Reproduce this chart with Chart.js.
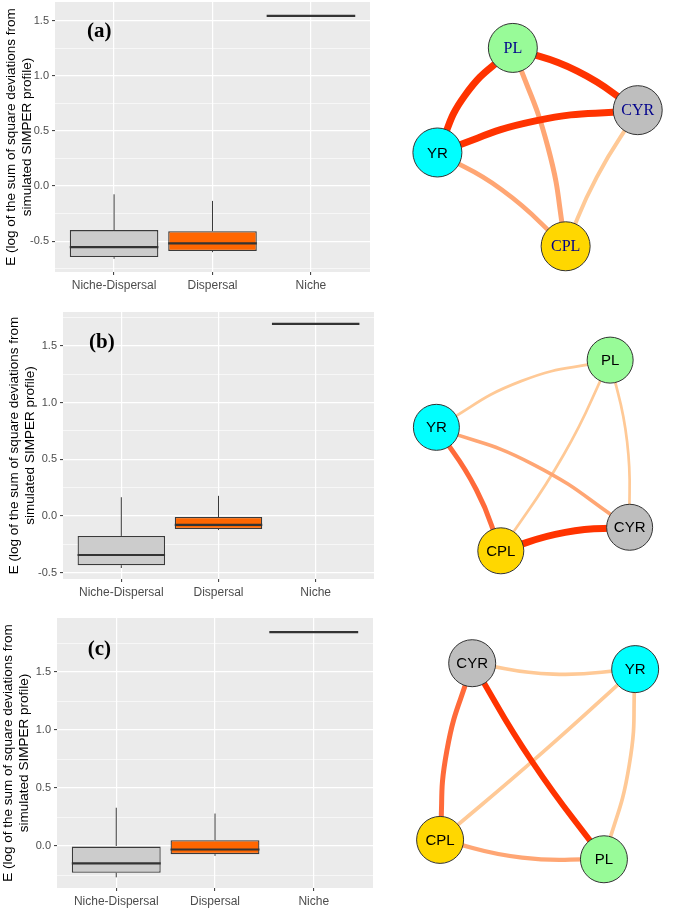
<!DOCTYPE html>
<html>
<head>
<meta charset="utf-8">
<script src="https://cdn.jsdelivr.net/npm/chart.js@4.4.1/dist/chart.umd.min.js"></script>
<style>
  html, body { margin: 0; padding: 0; background: #fff; }
  #fig { position: relative; width: 685px; height: 909px; overflow: hidden; }
  #fig canvas { position: absolute; }
</style>
</head>
<body>
<div id="fig">
  <canvas id="box-a"></canvas>
  <canvas id="box-b"></canvas>
  <canvas id="box-c"></canvas>
  <canvas id="net-a"></canvas>
  <canvas id="net-b"></canvas>
  <canvas id="net-c"></canvas>
</div>
<script>
// ─── Donnees : boxplots ─────────────────────────────────────────────────────

const CATEGORIES = ['Niche-Dispersal', 'Dispersal', 'Niche'];
const Y_TITLE = ['E (log of the sum of square deviations from', 'simulated SIMPER profile)'];
const PANEL_LABELS = ['(a)', '(b)', '(c)'];

// (a)
const A_LOW  = [-0.66, -0.60, 1.545];
const A_Q1   = [-0.645, -0.59, 1.545];
const A_MED  = [-0.555, -0.52, 1.545];
const A_Q3   = [-0.40, -0.41, 1.545];
const A_HIGH = [-0.075, -0.135, 1.545];
const A_YRANGE = [-0.78, 1.67];
const A_YTICKS = [-0.5, 0, 0.5, 1.0, 1.5];
const A_LABEL_AT = [0.85, 1.40];

// (b)
const B_LOW  = [-0.46, -0.125, 1.695];
const B_Q1   = [-0.435, -0.115, 1.695];
const B_MED  = [-0.345, -0.08, 1.695];
const B_Q3   = [-0.177, -0.01, 1.695];
const B_HIGH = [0.165, 0.177, 1.695];
const B_YRANGE = [-0.557, 1.80];
const B_YTICKS = [-0.5, 0, 0.5, 1.0, 1.5];
const B_LABEL_AT = [0.80, 1.53];

// (c)
const C_LOW  = [-0.27, -0.085, 1.845];
const C_Q1   = [-0.23, -0.07, 1.845];
const C_MED  = [-0.15, -0.03, 1.845];
const C_Q3   = [0.0, 0.05, 1.845];
const C_HIGH = [0.33, 0.28, 1.845];
const C_YRANGE = [-0.362, 1.966];
const C_YTICKS = [0, 0.5, 1.0, 1.5];
const C_LABEL_AT = [0.83, 1.69];

// ─── Donnees : reseaux ──────────────────────────────────────────────────────

const NET_A_NODES  = ['PL', 'CYR', 'YR', 'CPL'];
const NET_A_X      = [140, 289, 50, 203];
const NET_A_Y      = [27, 102, 153, 266];
const NET_A_FROM   = ['PL', 'PL', 'YR', 'PL', 'YR', 'CYR'];
const NET_A_TO     = ['YR', 'CYR', 'CYR', 'CPL', 'CPL', 'CPL'];
const NET_A_LEVEL  = [4, 4, 4, 2, 2, 1];
const NET_A_WEIGHT = [7, 7, 7, 5, 4.6, 4];
const NET_A_BEND_X = [83, 217, 167, 182, 127, 240];
const NET_A_BEND_Y = [84, 55, 115, 147, 198, 183];

const NET_B_NODES  = ['PL', 'YR', 'CYR', 'CPL'];
const NET_B_X      = [255, 50, 278, 126];
const NET_B_Y      = [43, 123, 242, 270];
const NET_B_FROM   = ['YR', 'PL', 'PL', 'YR', 'YR', 'CPL'];
const NET_B_TO     = ['PL', 'CPL', 'CYR', 'CYR', 'CPL', 'CYR'];
const NET_B_LEVEL  = [1, 1, 1, 2, 3, 4];
const NET_B_WEIGHT = [2.7, 2.7, 2.7, 3.6, 5, 7];
const NET_B_BEND_X = [150, 200, 275, 164, 97, 202];
const NET_B_BEND_Y = [68, 156, 140, 167, 197, 248];

const NET_C_NODES  = ['CYR', 'YR', 'CPL', 'PL'];
const NET_C_X      = [92, 285, 54, 248];
const NET_C_Y      = [46, 53, 256, 279];
const NET_C_FROM   = ['CYR', 'CYR', 'CYR', 'YR', 'YR', 'CPL'];
const NET_C_TO     = ['YR', 'CPL', 'PL', 'CPL', 'PL', 'PL'];
const NET_C_LEVEL  = [1, 3, 4, 1, 1, 2];
const NET_C_WEIGHT = [3.7, 5, 5.8, 3.7, 3.7, 4.3];
const NET_C_BEND_X = [188, 62, 163, 172, 278, 151];
const NET_C_BEND_Y = [59, 150, 163, 155, 167, 277];

// ─── Styles ─────────────────────────────────────────────────────────────────

const SANS = '"Liberation Sans", Arial, sans-serif';
const SERIF = '"Liberation Serif", "Times New Roman", serif';
const BOX_FILL = ['#cccccc', '#ff6600', '#cccccc'];
const NODE_FILL = { PL: '#98fb98', CYR: '#bebebe', YR: '#00ffff', CPL: '#ffd700' };
const EDGE_COLOR = { 1: '#ffc996', 2: '#ffa674', 3: '#ff6a3a', 4: '#ff3300' };

function place(id, left, top, w, h) {
  const c = document.getElementById(id);
  c.width = w;
  c.height = h;
  c.style.left = left + 'px';
  c.style.top = top + 'px';
  c.style.width = w + 'px';
  c.style.height = h + 'px';
  return c;
}

const panelBg = {
  id: 'panelBg',
  beforeDraw(chart) {
    const { ctx, chartArea: a } = chart;
    ctx.save();
    ctx.fillStyle = '#ebebeb';
    ctx.fillRect(a.left, a.top, a.right - a.left, a.bottom - a.top);
    ctx.restore();
  }
};

const panelLabel = {
  id: 'panelLabel',
  afterDatasetsDraw(chart, args, o) {
    const { ctx, scales } = chart;
    ctx.save();
    ctx.font = 'bold 21px ' + SERIF;
    ctx.fillStyle = '#000';
    ctx.textAlign = 'center';
    ctx.textBaseline = 'middle';
    ctx.fillText(o.text, scales.x.getPixelForValue(o.at[0]), scales.y.getPixelForValue(o.at[1]));
    ctx.restore();
  }
};

// ─── Boxplots ───────────────────────────────────────────────────────────────

function boxChart(id, frame, s) {
  const canvas = place(id, 0, frame.top, frame.w, frame.h);
  const majors = s.yTicks;
  const isMajor = v => majors.some(m => Math.abs(m - v) < 1e-9);
  const minors = [];
  majors.forEach(m => [m - 0.25, m + 0.25].forEach(v => {
    if (v > s.yRange[0] && v < s.yRange[1] && !isMajor(v) && !minors.some(u => Math.abs(u - v) < 1e-9)) minors.push(v);
  }));
  const gridVals = majors.concat(minors).sort((a, b) => a - b);

  // moustaches et medianes : segments separes par des trous (y null)
  const whiskers = [];
  const medians = [];
  CATEGORIES.forEach((c, i) => {
    const x = i + 1;
    whiskers.push({ x, y: s.low[i] }, { x, y: s.q1[i] }, { x, y: null });
    whiskers.push({ x, y: s.q3[i] }, { x, y: s.high[i] }, { x, y: null });
    medians.push({ x: x - 0.45, y: s.med[i] }, { x: x + 0.45, y: s.med[i] }, { x, y: null });
  });

  return new Chart(canvas, {
    type: 'bar',
    data: {
      datasets: [
        {
          type: 'bar',
          data: CATEGORIES.map((c, i) => ({ x: i + 1, y: [s.q1[i], s.q3[i]] })),
          backgroundColor: BOX_FILL, borderColor: '#3a3a3a', borderWidth: 1.3,
          borderSkipped: false, barPercentage: 0.9, categoryPercentage: 1, order: 3,
        },
        { type: 'line', data: whiskers, borderColor: '#3a3a3a', borderWidth: 1, pointRadius: 0, spanGaps: false, order: 2 },
        { type: 'line', data: medians, borderColor: '#333333', borderWidth: 2.2, pointRadius: 0, spanGaps: false, order: 1 },
      ],
    },
    options: {
      responsive: false,
      animation: false,
      events: [],
      layout: { padding: { left: 0, top: frame.areaTop, right: frame.w - frame.areaRight, bottom: 0 } },
      plugins: {
        legend: { display: false },
        tooltip: { enabled: false },
        panelLabel: { text: s.label, at: s.labelAt },
      },
      scales: {
        x: {
          type: 'linear', min: 0.4, max: 3.6, offset: false,
          afterBuildTicks: sc => { sc.ticks = CATEGORIES.map((c, i) => ({ value: i + 1 })); },
          afterFit: sc => { sc.height = frame.h - frame.areaBottom; sc.paddingLeft = 0; sc.paddingRight = 0; },
          ticks: { callback: v => CATEGORIES[Math.round(v) - 1], color: '#4d4d4d', font: { family: SANS, size: 12 }, autoSkip: false, maxRotation: 0, padding: 3 },
          grid: { color: '#ffffff', lineWidth: 1.2, tickColor: '#333333', tickLength: 3, tickWidth: 1, offset: false },
          border: { display: false },
        },
        y: {
          type: 'linear', min: s.yRange[0], max: s.yRange[1], beginAtZero: false,
          afterBuildTicks: sc => { sc.ticks = gridVals.map(v => ({ value: v })); },
          afterFit: sc => { sc.width = frame.areaLeft; sc.paddingTop = 0; sc.paddingBottom = 0; },
          ticks: { callback: v => isMajor(v) ? v.toFixed(1) : '', color: '#4d4d4d', font: { family: SANS, size: 11 }, autoSkip: false, padding: 3 },
          grid: {
            color: '#ffffff',
            lineWidth: ctx => (ctx.tick && !isMajor(ctx.tick.value)) ? 0.6 : 1.2,
            tickColor: ctx => (ctx.tick && !isMajor(ctx.tick.value)) ? 'rgba(0,0,0,0)' : '#333333',
            tickLength: 3, tickWidth: 1,
          },
          border: { display: false },
          title: { display: true, text: Y_TITLE, color: '#000', font: { family: SANS, size: 13.5 }, padding: { top: frame.titlePad, bottom: 0 } },
        },
      },
    },
    plugins: [panelBg, panelLabel],
  });
}

boxChart('box-a',
  { top: 0, w: 372, h: 300, areaLeft: 55, areaTop: 2, areaRight: 370, areaBottom: 272, titlePad: 3 },
  { low: A_LOW, q1: A_Q1, med: A_MED, q3: A_Q3, high: A_HIGH, yRange: A_YRANGE, yTicks: A_YTICKS, label: PANEL_LABELS[0], labelAt: A_LABEL_AT });
boxChart('box-b',
  { top: 300, w: 376, h: 300, areaLeft: 63, areaTop: 12, areaRight: 374, areaBottom: 279, titlePad: 6 },
  { low: B_LOW, q1: B_Q1, med: B_MED, q3: B_Q3, high: B_HIGH, yRange: B_YRANGE, yTicks: B_YTICKS, label: PANEL_LABELS[1], labelAt: B_LABEL_AT });
boxChart('box-c',
  { top: 600, w: 375, h: 309, areaLeft: 57, areaTop: 18, areaRight: 373, areaBottom: 288, titlePad: 0 },
  { low: C_LOW, q1: C_Q1, med: C_MED, q3: C_Q3, high: C_HIGH, yRange: C_YRANGE, yTicks: C_YTICKS, label: PANEL_LABELS[2], labelAt: C_LABEL_AT });

// ─── Reseaux ────────────────────────────────────────────────────────────────

const nodeLabels = {
  id: 'nodeLabels',
  afterDatasetsDraw(chart, args, o) {
    const meta = chart.getDatasetMeta(0);
    const ctx = chart.ctx;
    ctx.save();
    ctx.textAlign = 'center';
    ctx.textBaseline = 'middle';
    o.names.forEach((n, i) => {
      const pt = meta.data[i];
      const serif = o.serif.includes(n);
      ctx.font = (serif ? '16px ' : '15px ') + (serif ? SERIF : SANS);
      ctx.fillStyle = serif ? '#00008b' : '#000000';
      ctx.fillText(n, pt.x, pt.y + 1);
    });
    ctx.restore();
  }
};

function netChart(id, frame, n) {
  const canvas = place(id, frame.left, frame.top, frame.w, frame.h);
  const idx = name => n.nodes.indexOf(name);
  const edges = n.from.map((f, i) => {
    const a = idx(f), b = idx(n.to[i]);
    return {
      type: 'scatter', showLine: true,
      data: [
        { x: n.x[a], y: n.y[a] },
        { x: n.bendX[i], y: n.bendY[i] },
        { x: n.x[b], y: n.y[b] },
      ],
      borderColor: EDGE_COLOR[n.level[i]], borderWidth: n.weight[i],
      pointRadius: 0, tension: 0.5, clip: false, order: 10 - n.level[i],
    };
  });
  const nodes = {
    type: 'scatter',
    data: n.nodes.map((name, i) => ({ x: n.x[i], y: n.y[i] })),
    pointRadius: frame.r, pointBackgroundColor: n.nodes.map(name => NODE_FILL[name]),
    pointBorderColor: '#333333', pointBorderWidth: 1, clip: false, order: 0,
  };
  return new Chart(canvas, {
    type: 'scatter',
    data: { datasets: [nodes].concat(edges) },
    options: {
      responsive: false,
      animation: false,
      events: [],
      layout: { padding: 0 },
      plugins: {
        legend: { display: false },
        tooltip: { enabled: false },
        nodeLabels: { names: n.nodes, serif: n.serif },
      },
      scales: {
        x: { type: 'linear', min: 0, max: frame.w, display: false },
        y: { type: 'linear', min: 0, max: frame.h, reverse: true, display: false },
      },
    },
    plugins: [nodeLabels],
  });
}

netChart('net-a', { left: 370, top: 0, w: 315, h: 300, r: 24.5 },
  { nodes: NET_A_NODES, x: NET_A_X, y: NET_A_Y, from: NET_A_FROM, to: NET_A_TO, level: NET_A_LEVEL,
    weight: NET_A_WEIGHT, bendX: NET_A_BEND_X, bendY: NET_A_BEND_Y, serif: ['PL', 'CYR', 'CPL'] });
netChart('net-b', { left: 370, top: 300, w: 315, h: 300, r: 23 },
  { nodes: NET_B_NODES, x: NET_B_X, y: NET_B_Y, from: NET_B_FROM, to: NET_B_TO, level: NET_B_LEVEL,
    weight: NET_B_WEIGHT, bendX: NET_B_BEND_X, bendY: NET_B_BEND_Y, serif: [] });
netChart('net-c', { left: 370, top: 600, w: 315, h: 309, r: 23.5 },
  { nodes: NET_C_NODES, x: NET_C_X, y: NET_C_Y, from: NET_C_FROM, to: NET_C_TO, level: NET_C_LEVEL,
    weight: NET_C_WEIGHT, bendX: NET_C_BEND_X, bendY: NET_C_BEND_Y, serif: [] });
</script>
</body>
</html>
